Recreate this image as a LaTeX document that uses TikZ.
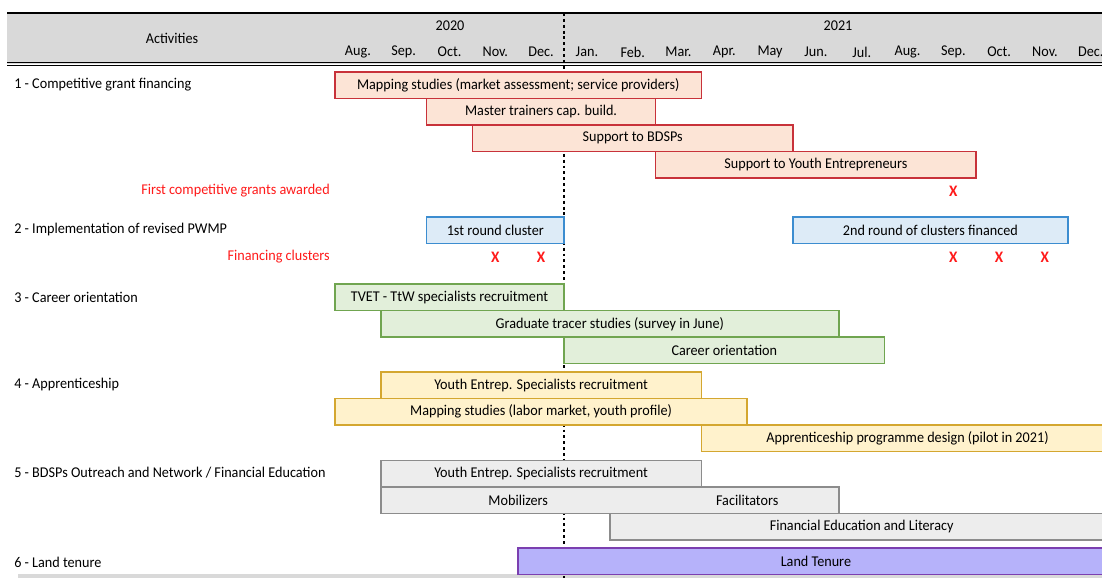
\documentclass[tikz,border=0pt]{standalone}
\usepackage{fontspec}
\setmainfont[FakeStretch=0.95]{Carlito}
\usetikzlibrary{fit}

\definecolor{headgrey}{HTML}{D9D9D9}
\definecolor{redfill}{HTML}{FCE4D6}
\definecolor{redline}{HTML}{C8323A}
\definecolor{bluefill}{HTML}{DDEBF7}
\definecolor{blueline}{HTML}{3C8DD0}
\definecolor{greenfill}{HTML}{E2EFDA}
\definecolor{greenline}{HTML}{70A550}
\definecolor{yellowfill}{HTML}{FFF2CC}
\definecolor{yellowline}{HTML}{D4A730}
\definecolor{greyfill}{HTML}{EDEDED}
\definecolor{greyline}{HTML}{8C8C8C}
\definecolor{purplefill}{HTML}{B6B2FA}
\definecolor{purpleline}{HTML}{7B3FB0}
\definecolor{markred}{HTML}{FF1A1A}

\newcommand{\colx}[1]{335+45.8*(#1)} % left edge of a month column
\newcommand{\gbar}[6]{% name, first col, last col, top, style, text
  \node[#5, fit={({\colx{#2}},#4) ({\colx{#3+1}},#4+26.5)}] (#1) {};
  \node[bartext] (#1text) at (#1.center) {#6};}

\tikzset{
  every node/.style={font=\fontsize{11.2}{13}\selectfont},
  ganttbar/.style={inner sep=0pt, outer sep=0pt, line width=1.2pt},
  bartext/.style={inner sep=0pt},
  redbar/.style={ganttbar, fill=redfill, draw=redline},
  bluebar/.style={ganttbar, fill=bluefill, draw=blueline},
  greenbar/.style={ganttbar, fill=greenfill, draw=greenline},
  yellowbar/.style={ganttbar, fill=yellowfill, draw=yellowline},
  greybar/.style={ganttbar, fill=greyfill, draw=greyline},
  purplebar/.style={ganttbar, fill=purplefill, draw=purpleline},
  activity/.style={anchor=west, inner sep=0pt},
  milestone/.style={anchor=east, inner sep=0pt, text=markred},
  markx/.style={inner sep=0pt, text=markred, font=\fontsize{12}{13}\selectfont\bfseries}
}

\begin{document}
\begin{tikzpicture}[x=0.75pt,y=-0.75pt]
  \clip (0,0) rectangle (1102,578);

  % header
  \fill[headgrey] (7,13) rectangle (1102,64);
  \draw[line width=1.4pt] (7,13) -- (1102,13);
  \draw[line width=0.7pt] (7,62.5) -- (1102,62.5);
  \draw[line width=0.7pt] (7,65.5) -- (1102,65.5);
  \fill[headgrey] (18,574) rectangle (1102,578);

  \node (activities) at (172,38) {Activities};
  \node (year20) at (450,26) {2020};
  \node (year21) at (838,26) {2021};
  \foreach \m [count=\i from 0] in {Aug.,Sep.,Oct.,Nov.,Dec.,Jan.,Feb.,Mar.,Apr.,May,Jun.,Jul.,Aug.,Sep.,Oct.,Nov.,Dec.} {
    \node (month\i) at ({\colx{\i+0.5}},52) {\m};
  }

  % year change
  \draw[line width=1.1pt, dash pattern=on 2.2pt off 2.2pt] ({\colx{5}},13) -- ({\colx{5}},578);

  % activities
  \node[activity] (act1) at (14,85) {1 - Competitive grant financing};
  \node[milestone] (grants) at (330,191) {First competitive grants awarded};
  \node[activity] (act2) at (14,230) {2 - Implementation of revised PWMP};
  \node[milestone] (financing) at (330,257) {Financing clusters};
  \node[activity] (act3) at (14,297) {3 - Career orientation};
  \node[activity] (act4) at (14,385) {4 - Apprenticeship};
  \node[activity] (act5) at (14,473) {5 - BDSPs Outreach and Network / Financial Education};
  \node[activity] (act6) at (14,562) {6 - Land tenure};

  % 1
  \gbar{mapmarket}{0}{7}{72}{redbar}{Mapping studies (market assessment; service providers)}
  \gbar{trainers}{2}{6}{98.5}{redbar}{Master trainers cap. build.}
  \gbar{bdsp}{3}{9}{125}{redbar}{Support to BDSPs}
  \gbar{youthsup}{7}{13}{151.5}{redbar}{Support to Youth Entrepreneurs}
  \node[markx] (grantx) at ({\colx{13.5}},191) {X};

  % 2
  \gbar{cluster1}{2}{4}{217}{bluebar}{1st round cluster}
  \gbar{cluster2}{10}{15}{217}{bluebar}{2nd round of clusters financed}
  \foreach \c [count=\k] in {3,4,13,14,15} {
    \node[markx] (fundx\k) at ({\colx{\c+0.5}},257) {X};
  }

  % 3
  \gbar{tvet}{0}{4}{284}{greenbar}{TVET - TtW specialists recruitment}
  \gbar{tracer}{1}{10}{310.5}{greenbar}{Graduate tracer studies (survey in June)}
  \gbar{career}{5}{11}{337}{greenbar}{Career orientation}

  % 4
  \gbar{yerecruit}{1}{7}{372}{yellowbar}{Youth Entrep. Specialists recruitment}
  \gbar{maplabor}{0}{8}{398.5}{yellowbar}{Mapping studies (labor market, youth profile)}
  \gbar{appdesign}{8}{16}{425}{yellowbar}{Apprenticeship programme design (pilot in 2021)}

  % 5
  \gbar{yerecruit2}{1}{7}{460.5}{greybar}{Youth Entrep. Specialists recruitment}
  \gbar{outreach}{1}{10}{487}{greybar}{}
  \node (mobilizers) at ({\colx{4}},500) {Mobilizers};
  \node (facilitators) at ({\colx{9}},500) {Facilitators};
  \gbar{finlit}{6}{16}{513.5}{greybar}{Financial Education and Literacy}

  % 6
  \gbar{landtenure}{4}{16}{548}{purplebar}{Land Tenure}
\end{tikzpicture}
\end{document}
